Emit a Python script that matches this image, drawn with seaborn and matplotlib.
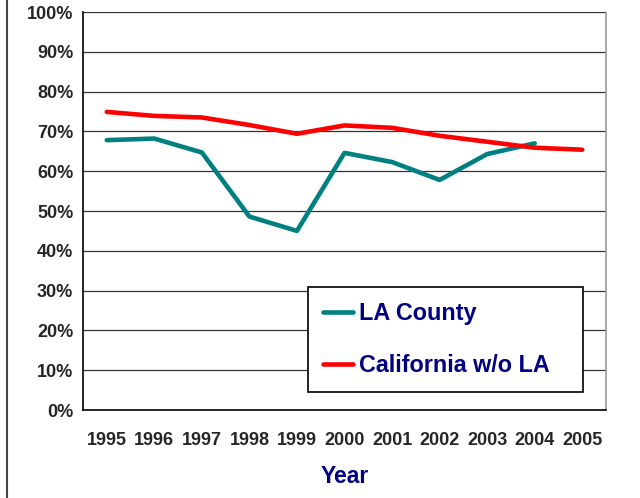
import matplotlib
matplotlib.use("Agg")
import matplotlib.pyplot as plt
import seaborn as sns
import pandas as pd
from matplotlib.ticker import FuncFormatter, FixedLocator
from matplotlib.lines import Line2D

# Values (share, %)
years = [1995, 1996, 1997, 1998, 1999, 2000, 2001, 2002, 2003, 2004, 2005]
la_county = [67.8, 68.2, 64.7, 48.6, 45.0, 64.6, 62.3, 57.8, 64.3, 67.0]
california_wo_la = [74.9, 73.9, 73.5, 71.6, 69.4, 71.5, 70.9, 68.9, 67.4, 65.9, 65.4]

rows = []
for i, v in enumerate(la_county):
    rows.append({"pos": i, "value": v / 100, "series": "LA County"})
for i, v in enumerate(california_wo_la):
    rows.append({"pos": i, "value": v / 100, "series": "California w/o LA"})
df = pd.DataFrame(rows)

sns.set_style("white")
plt.rcParams["font.family"] = ["Liberation Sans", "DejaVu Sans"]

fig = plt.figure(figsize=(6.4, 4.98), dpi=100)
ax = fig.add_axes([83 / 640, 1 - 410 / 498, (606 - 83) / 640, (410 - 12) / 498])

palette = {"LA County": "#008080", "California w/o LA": "#FF0000"}
sns.lineplot(data=df, x="pos", y="value", hue="series", palette=palette,
             linewidth=3.3, ax=ax, legend=False)

ax.set_xlim(-0.5, len(years) - 0.5)
ax.set_ylim(0, 1)
ax.set_yticks([i / 10 for i in range(11)])
ax.yaxis.set_major_formatter(FuncFormatter(lambda v, _: f"{v:.0%}"))
ax.yaxis.grid(True, color="#333333", linewidth=0.9)
ax.set_axisbelow(True)

ax.set_xticks(range(len(years)))
ax.set_xticklabels([str(y) for y in years])
ax.xaxis.set_minor_locator(FixedLocator([i - 0.5 for i in range(len(years) + 1)]))
ax.tick_params(axis="x", which="major", length=0, pad=16, labelsize=13)
ax.tick_params(axis="x", which="minor", length=5, width=1, color="black", direction="out")
ax.tick_params(axis="y", length=5, width=1, color="black", direction="out", labelsize=13, pad=2)
for lab in ax.get_xticklabels() + ax.get_yticklabels():
    lab.set_fontweight("bold")

for side in ["left", "bottom"]:
    ax.spines[side].set_color("black")
    ax.spines[side].set_linewidth(1.2)
for side in ["top", "right"]:
    ax.spines[side].set_visible(False)
ax.plot([1, 1], [0, 1], transform=ax.transAxes, color="#999999", linewidth=1.2, clip_on=False)

ax.set_xlabel("Year", fontsize=16.5, fontweight="bold", color="#000080", labelpad=11)
ax.set_ylabel("")

handles = [Line2D([0], [0], color=palette[s], linewidth=3.3) for s in ["LA County", "California w/o LA"]]
leg = ax.legend(handles, ["LA County", "California w/o LA"], loc="lower left",
                bbox_to_anchor=(0.430, 0.045, 0.526, 0.264), mode="expand", borderaxespad=0,
                frameon=True, fancybox=False, edgecolor="black", framealpha=1,
                handlelength=1.3, handletextpad=0.25, labelspacing=1.25, borderpad=0.64,
                prop={"size": 16.8, "weight": "bold"})
leg.get_frame().set_linewidth(1.2)
for t in leg.get_texts():
    t.set_color("#000080")

fig.add_artist(Line2D([7 / 640, 7 / 640], [0, 1], color="#444444", linewidth=1.5))

fig.savefig("out.png", dpi=100)
